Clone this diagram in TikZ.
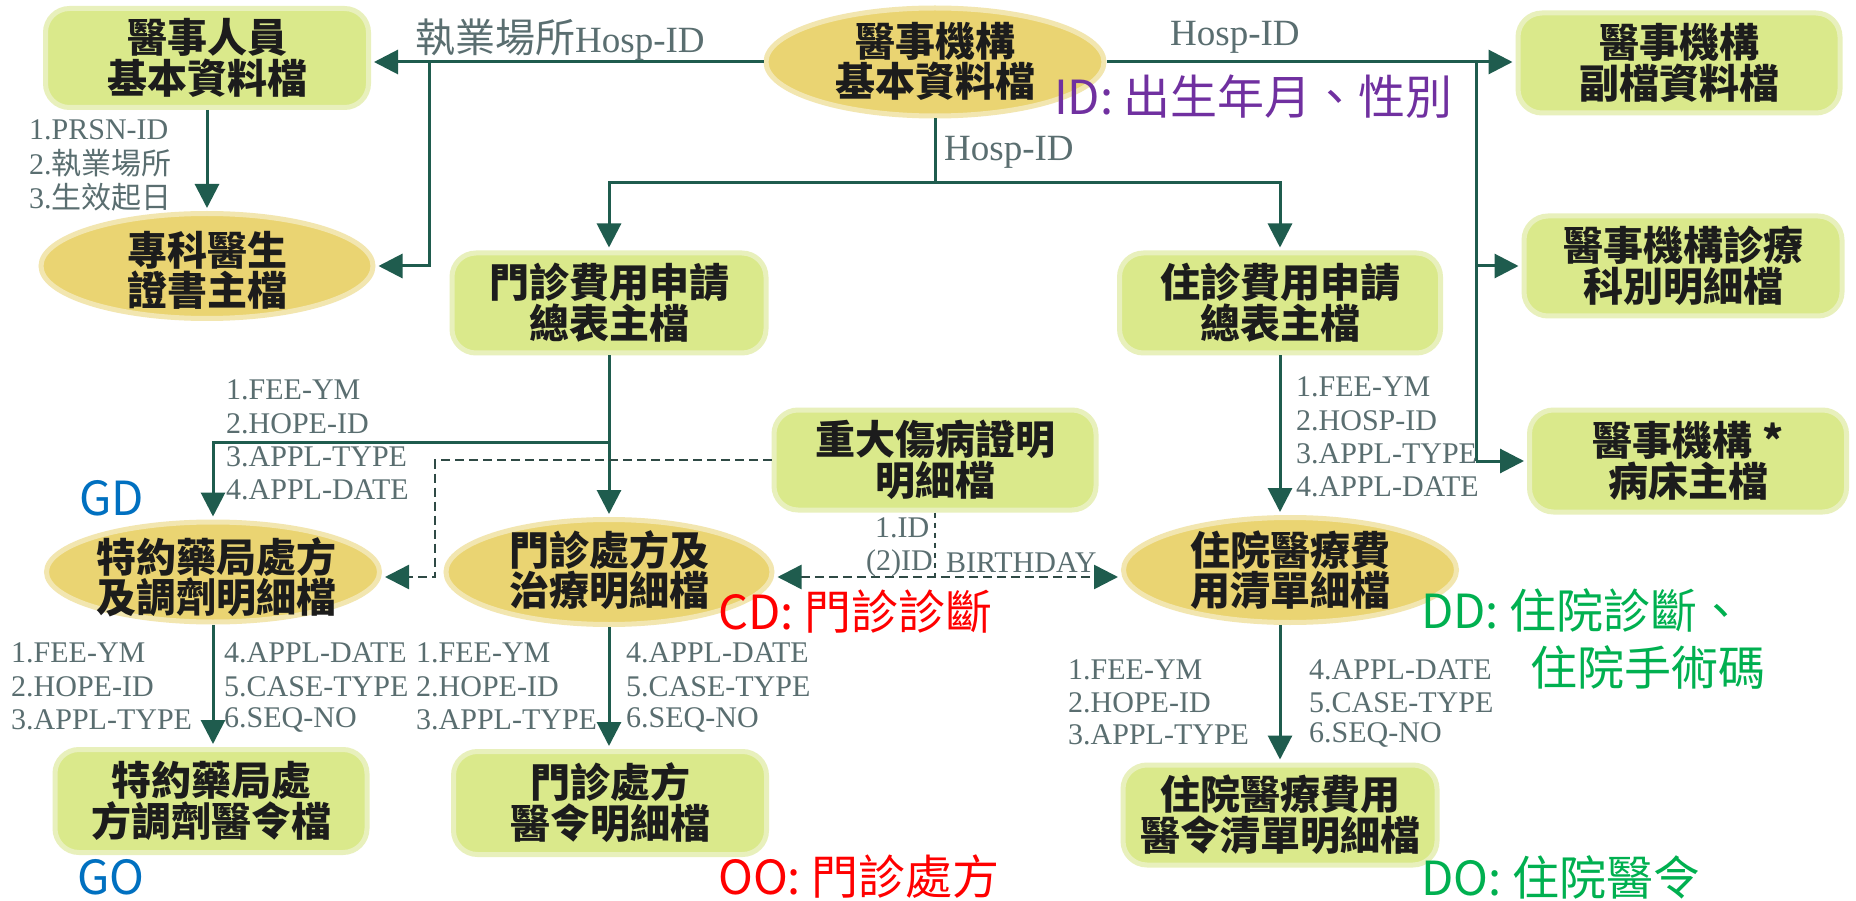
\documentclass[tikz,border=0pt]{standalone}
\usepackage{fontspec}
\setmainfont{Liberation Serif}
\newfontfamily\cjk{Noto Sans CJK TC}
\usetikzlibrary{shapes.geometric,arrows.meta}
\definecolor{boxfill}{HTML}{DAE98B}
\definecolor{boxedge}{HTML}{E8F0BC}
\definecolor{ellfill}{HTML}{EAD472}
\definecolor{elledge}{HTML}{F2E6B0}
\definecolor{lnc}{HTML}{1F5C4E}
\definecolor{dlc}{HTML}{2F4A45}
\definecolor{lbl}{HTML}{5A6E70}
\definecolor{txt}{HTML}{1C1C1C}
\definecolor{cpurple}{HTML}{7030A0}
\definecolor{cblue}{HTML}{0070C0}
\definecolor{cred}{HTML}{FF0000}
\definecolor{cgreen}{HTML}{00B050}
\begin{document}
\begin{tikzpicture}[x=1pt,y=-1pt,
  box/.style={rectangle, rounded corners=24pt, fill=boxfill, draw=boxedge, line width=5pt,
    align=center, font=\cjk\bfseries\fontsize{40}{41}\selectfont, text=txt, inner sep=0pt},
  ell/.style={ellipse, fill=ellfill, draw=elledge, line width=5pt, inner sep=0pt},
  etxt/.style={align=center, font=\cjk\bfseries\fontsize{40}{40}\selectfont, text=txt, inner sep=0pt},
  ln/.style={draw=lnc, line width=3pt},
  arr/.style={ln, -{Triangle[length=24pt,width=24pt]}, shorten >=3pt},
  dln/.style={draw=dlc, line width=2.5pt, dash pattern=on 9pt off 5pt},
  dtip/.tip={Triangle[length=24pt,width=24pt,fill=lnc,color=lnc]},
  lb/.style={font=\fontsize{30}{30}\selectfont, text=lbl, anchor=west, inner sep=0pt},
  hl/.style={font=\fontsize{37}{37}\selectfont, text=lbl, anchor=west, inner sep=0pt},
  ann/.style={font=\cjk\fontsize{47}{47}\selectfont, anchor=west, inner sep=0pt}]
\fill[white] (0,0) rectangle (1856,901);
\useasboundingbox (0,0) rectangle (1856,901);

% nodes
\node[box, minimum width=323, minimum height=99] (A) at (207,58) {醫事人員\\基本資料檔};
\node[ell, minimum width=332, minimum height=105] (B) at (207,266) {};
\node[etxt] (Bt) at (207,270) {專科醫生\\證書主檔};
\node[ell, minimum width=338, minimum height=108] (C) at (935,62) {};
\node[etxt] (Ct) at (935,61) {醫事機構\\基本資料檔};
\node[box, minimum width=322, minimum height=100] (D) at (1679,63) {醫事機構\\副檔資料檔};
\node[box, minimum width=318, minimum height=100] (E) at (1683,266) {醫事機構診療\\科別明細檔};
\node[box, minimum width=317, minimum height=102] (G) at (1688,461) {醫事機構 *\\病床主檔};
\node[box, minimum width=314, minimum height=100] (H) at (609,303) {門診費用申請\\總表主檔};
\node[box, minimum width=321, minimum height=100] (F) at (1280,303) {住診費用申請\\總表主檔};
\node[box, minimum width=322, minimum height=100] (K) at (935,460) {重大傷病證明\\明細檔};
\node[ell, minimum width=333, minimum height=100] (I) at (213,572) {};
\node[etxt] (It) at (216,577) {特約藥局處方\\及調劑明細檔};
\node[ell, minimum width=326, minimum height=105] (J) at (609,572) {};
\node[etxt] (Jt) at (609,570) {門診處方及\\治療明細檔};
\node[ell, minimum width=333, minimum height=105] (L) at (1290,570) {};
\node[etxt] (Lt) at (1290,570) {住院醫療費\\用清單細檔};
\node[box, minimum width=312, minimum height=103] (M) at (211,801) {特約藥局處\\方調劑醫令檔};
\node[box, minimum width=313, minimum height=103] (N) at (610,803) {門診處方\\醫令明細檔};
\node[box, minimum width=314, minimum height=100] (O) at (1280,815) {住院醫療費用\\醫令清單明細檔};

% solid connectors
\coordinate (j1) at (429,62);
\coordinate (j2) at (1476,62);
\coordinate (j3) at (935,183);
\coordinate (j4) at (609,442);
\coordinate (j5) at (435,577);
\draw[arr] (C.west) -- (A.east |- C.west);
\draw[arr] (j1) |- (B.east);
\draw[arr] (A.south) -- (B.north);
\draw[arr] (C.east) -- (D.west |- C.east);
\draw[ln] (j2) -- (j2 |- G.west);
\draw[arr] (j2 |- E.west) -- (E.west);
\draw[arr] (j2 |- G.west) -- (G.west);
\draw[ln] (C.south) -- (j3);
\draw[arr] (j3) -| (H.north);
\draw[arr] (j3) -| (F.north);
\draw[arr] (H.south) -- (H.south |- J.north);
\draw[arr] (j4) -| (I.north);
\draw[arr] (F.south) -- (F.south |- L.north);
\draw[arr] (I.south) -- (I.south |- M.north);
\draw[arr] (J.south) -- (J.south |- N.north);
\draw[arr] (O.north |- L.south) -- (O.north);

% dashed connectors
\draw[dln, -dtip, shorten >=3pt] (K.west) -| (j5) -- (I.east |- j5);
\draw[dln, dash pattern=on 5pt off 5pt] (K.south) -- (K.south |- j5);
\draw[dln, dtip-dtip, shorten >=3pt, shorten <=3pt] (J.east |- j5) -- (L.west |- j5);

% connector labels
\node[hl] (h1) at (415,40) {{\cjk\fontsize{40}{40}\selectfont 執業場所}Hosp-ID};
\node[hl] (h2) at (1170,37) {Hosp-ID};
\node[hl] (h3) at (944,152) {Hosp-ID};

\foreach \t [count=\i] in {1.PRSN-ID,2.{\cjk 執業場所},3.{\cjk 生效起日}}
  \node[lb] (pa\i) at (29,{130+33.5*(\i-1)}) {\t};
\foreach \t [count=\i] in {1.FEE-YM,2.HOPE-ID,3.APPL-TYPE,4.APPL-DATE}
  \node[lb] (pb\i) at (226,{390+33.3*(\i-1)}) {\t};
\foreach \t [count=\i] in {1.FEE-YM,2.HOSP-ID,3.APPL-TYPE,4.APPL-DATE}
  \node[lb] (pc\i) at (1296,{387+33.3*(\i-1)}) {\t};
\foreach \t [count=\i] in {1.FEE-YM,2.HOPE-ID,3.APPL-TYPE}
  \node[lb] (pd\i) at (11,{653+33.5*(\i-1)}) {\t};
\foreach \t [count=\i] in {4.APPL-DATE,5.CASE-TYPE,6.SEQ-NO}
  \node[lb] (pe\i) at (224,{653+33.5*(\i-1)}) {\t};
\foreach \t [count=\i] in {1.FEE-YM,2.HOPE-ID,3.APPL-TYPE}
  \node[lb] (pf\i) at (416,{653+33.5*(\i-1)}) {\t};
\foreach \t [count=\i] in {4.APPL-DATE,5.CASE-TYPE,6.SEQ-NO}
  \node[lb] (pg\i) at (626,{653+33.5*(\i-1)}) {\t};
\foreach \t [count=\i] in {1.FEE-YM,2.HOPE-ID,3.APPL-TYPE}
  \node[lb] (ph\i) at (1068,{670+32.5*(\i-1)}) {\t};
\foreach \t [count=\i] in {4.APPL-DATE,5.CASE-TYPE,6.SEQ-NO}
  \node[lb] (pi\i) at (1309,{670+32.5*(\i-1)}) {\t};
\node[lb] (b1) at (875,528) {1.ID};
\node[lb] (b2) at (866,563) {(2)ID};
\node[lb] (b3) at (946,563) {BIRTHDAY};

% annotations
\node[ann, text=cpurple] (a1) at (1054,97) {ID: 出生年月、性別};
\node[ann, text=cblue] (a2) at (79,498) {GD};
\node[ann, text=cred] (a3) at (718,612) {CD: 門診診斷};
\node[ann, text=cgreen] (a4) at (1421,610) {DD: 住院診斷、};
\node[ann, text=cgreen] (a5) at (1530,667) {住院手術碼};
\node[ann, text=cblue] (a6) at (77,877) {GO};
\node[ann, text=cred] (a7) at (718,877) {OO: 門診處方};
\node[ann, text=cgreen] (a8) at (1421,877) {DO: 住院醫令};
\end{tikzpicture}
\end{document}
